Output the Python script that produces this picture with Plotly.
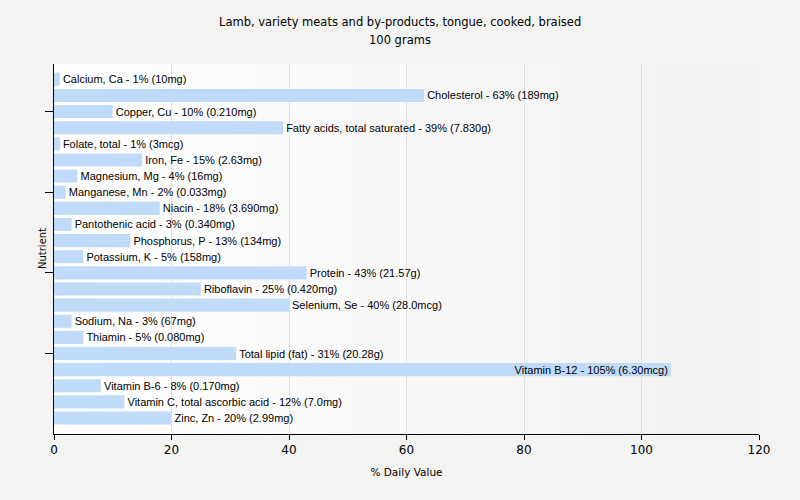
import plotly.graph_objects as go

nutrients = ["Calcium, Ca", "Cholesterol", "Copper, Cu", "Fatty acids, total saturated",
             "Folate, total", "Iron, Fe", "Magnesium, Mg", "Manganese, Mn", "Niacin",
             "Pantothenic acid", "Phosphorus, P", "Potassium, K", "Protein", "Riboflavin",
             "Selenium, Se", "Sodium, Na", "Thiamin", "Total lipid (fat)", "Vitamin B-12",
             "Vitamin B-6", "Vitamin C, total ascorbic acid", "Zinc, Zn"]
percent = [1, 63, 10, 39, 1, 15, 4, 2, 18, 3, 13, 5, 43, 25, 40, 3, 5, 31, 105, 8, 12, 20]
amounts = ["10mg", "189mg", "0.210mg", "7.830g", "3mcg", "2.63mg", "16mg", "0.033mg",
           "3.690mg", "0.340mg", "134mg", "158mg", "21.57g", "0.420mg", "28.0mcg", "67mg",
           "0.080mg", "20.28g", "6.30mcg", "0.170mg", "7.0mg", "2.99mg"]
title_lines = ["Lamb, variety meats and by-products, tongue, cooked, braised", "100 grams"]

labels = [f"{n} - {p}% ({a})" for n, p, a in zip(nutrients, percent, amounts)]
positions = ["inside" if p > 90 else "outside" for p in percent]
idx = list(range(len(nutrients)))

W, H = 800, 500
L, R, T, B = 54, 41, 64, 66
plot_w = W - L - R
plot_h = H - T - B

fig = go.Figure(go.Bar(
    x=percent, y=idx, orientation="h",
    marker=dict(color="#c0dbf9", line=dict(width=0)),
    text=labels, textposition=positions, insidetextanchor="end",
    constraintext="none",
    textfont=dict(family="Liberation Sans, Arial", size=11, color="#000000"),
    cliponaxis=False, hoverinfo="skip",
))

for i, line in enumerate(title_lines):
    ypix = 22 + 18 * i
    fig.add_annotation(text=line, xref="paper", yref="paper", x=(W / 2 - L) / plot_w,
                       y=1 + (T - ypix) / plot_h, xanchor="center", yanchor="middle",
                       showarrow=False,
                       font=dict(family="DejaVu Sans", size=11.5, color="#000000"))

fig.add_annotation(text="Nutrient", xref="paper", yref="paper", x=(42 - L) / plot_w, y=0.5,
                   xanchor="center", yanchor="middle", textangle=-90, showarrow=False,
                   font=dict(family="DejaVu Sans", size=10, color="#000000"))

grad_svg = ("data:image/svg+xml;utf8,<svg xmlns='http://www.w3.org/2000/svg' width='100' height='100' "
            "preserveAspectRatio='none'><defs><linearGradient id='g' x1='0' y1='0' x2='1' y2='0'>"
            "<stop offset='0' stop-color='%23ffffff'/><stop offset='1' stop-color='%23f1f1f0'/>"
            "</linearGradient></defs><rect width='100' height='100' fill='url(%23g)'/></svg>")
fig.add_layout_image(source=grad_svg, xref="paper", yref="paper", x=0, y=1, sizex=1, sizey=1,
                     xanchor="left", yanchor="top", sizing="stretch", layer="below")

fig.update_layout(
    width=W, height=H,
    margin=dict(l=L, r=R, t=T, b=B),
    paper_bgcolor="#f3f3f1", plot_bgcolor="#fafafa",
    bargap=0.19,
    showlegend=False,
    font=dict(family="DejaVu Sans", size=12, color="#000000"),
)
fig.update_xaxes(range=[0, 120], dtick=20, showgrid=True, gridcolor="#e0e0e0",
                 zeroline=False, showline=True, linecolor="#000000", linewidth=1,
                 ticks="outside", ticklen=5, tickcolor="#000000",
                 tickfont=dict(family="DejaVu Sans", size=12), automargin=False,
                 title=dict(text="% Daily Value", font=dict(family="DejaVu Sans", size=10.5), standoff=12))
fig.update_yaxes(range=[21.99, -0.95], tickvals=[2, 7, 12, 17],
                 showticklabels=False, ticks="outside", ticklen=8, tickcolor="#000000",
                 showgrid=False, zeroline=False, showline=True, linecolor="#000000",
                 automargin=False)

fig.write_html("out.html", config={"displayModeBar": False},
               post_script="document.body.style.margin='0';document.body.style.background='#f3f3f1';")
